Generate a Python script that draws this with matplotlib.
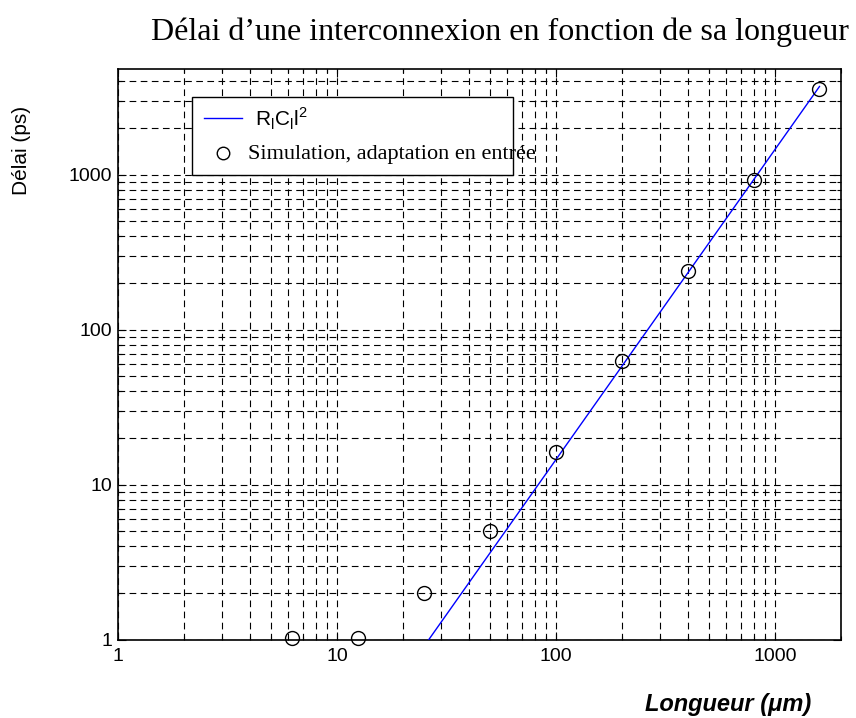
import matplotlib
matplotlib.use("Agg")
import matplotlib.pyplot as plt
from matplotlib.lines import Line2D
from matplotlib.patches import Rectangle

# Interconnect delay vs. length
length_um = [6.25, 12.5, 25, 50, 100, 200, 400, 800, 1600]
sim_delay_ps = [1.03, 1.03, 2.0, 5.0, 16.1, 63, 238, 920, 3550]
rc_coeff = 1.0 / 26.3 ** 2          # R_l * C_l  (ps / um^2)
model_delay_ps = [rc_coeff * l ** 2 for l in length_um]

tick_vals = [1, 10, 100, 1000]
tick_labels = ["1", "10", "100", "1000"]

title = "Délai d\u2019une interconnexion en fonction de sa longueur"
xlabel = "Longueur (\u03bcm)"
ylabel = "Délai (ps)"
legend_model = r"R$_\mathregular{l}$C$_\mathregular{l}$l$^\mathregular{2}$"
legend_sim = "Simulation, adaptation en entrée"

sans = "Liberation Sans"
serif = "Liberation Serif"

fig = plt.figure(figsize=(8.56, 7.18), dpi=100)
ax = fig.add_axes([118 / 856, 1 - 639.5 / 718, (840.7 - 118) / 856, (639.5 - 69) / 718])

ax.set_xscale("log")
ax.set_yscale("log")
ax.set_xlim(1, 2000)
ax.set_ylim(1, 4800)

ax.plot(length_um, model_delay_ps, color="#0000ff", lw=1.0, zorder=3)
ax.plot(length_um, sim_delay_ps, linestyle="none", marker="o", ms=10,
        mfc="none", mec="black", mew=1.0, clip_on=False, zorder=4)

ax.set_xticks(tick_vals)
ax.set_xticklabels(tick_labels)
ax.set_yticks(tick_vals)
ax.set_yticklabels(tick_labels)
for lab in ax.get_xticklabels() + ax.get_yticklabels():
    lab.set_fontfamily(sans)
    lab.set_fontsize(14)
ax.tick_params(which="both", direction="in", top=True, right=True, width=0.8)
ax.tick_params(which="major", length=6)
ax.tick_params(axis="y", which="major", pad=4)
ax.tick_params(axis="x", which="major", pad=6)
ax.tick_params(which="minor", length=3)

ax.grid(True, which="both", color="black", linestyle=(0, (6, 4)), linewidth=0.8)
ax.set_axisbelow(False)
for sp in ax.spines.values():
    sp.set_linewidth(1.2)


def ax_xy(px, py):
    return (px - 118) / (840.7 - 118), (639.5 - py) / (639.5 - 69)


# Legend box (text of the second entry runs past the frame)
bx0, by0 = ax_xy(192, 175)
bx1, by1 = ax_xy(513, 97)
ax.add_patch(Rectangle((bx0, by0), bx1 - bx0, by1 - by0, transform=ax.transAxes,
                       facecolor="white", edgecolor="black", lw=1.0, zorder=5))

x0, y0 = ax_xy(204, 118)
x1, _ = ax_xy(242, 118)
ax.add_line(Line2D([x0, x1], [y0, y0], transform=ax.transAxes, color="#0000ff",
                   lw=1.0, zorder=6))
tx, ty = ax_xy(255, 119)
ax.text(tx, ty, legend_model, transform=ax.transAxes, fontfamily=sans,
        fontsize=15, va="center", ha="left", zorder=6)
mx, my = ax_xy(223, 153)
ax.add_line(Line2D([mx], [my], transform=ax.transAxes, marker="o", ms=9,
                   mfc="none", mec="black", mew=1.0, zorder=6))
tx, ty = ax_xy(248, 155)
ax.text(tx, ty, legend_sim, transform=ax.transAxes, fontfamily=serif,
        fontsize=16, va="center", ha="left", zorder=6)

fig.text(500 / 856, 1 - 32 / 718, title, fontfamily=serif, fontsize=23,
         ha="center", va="center")
fig.text(728 / 856, 1 - 705 / 718, xlabel, fontfamily=sans, fontsize=17,
         fontweight="bold", fontstyle="italic", ha="center", va="center")
fig.text(22 / 856, 1 - 150 / 718, ylabel, fontfamily=sans, fontsize=15,
         rotation=90, ha="center", va="center")

fig.savefig("out.png", dpi=100)
